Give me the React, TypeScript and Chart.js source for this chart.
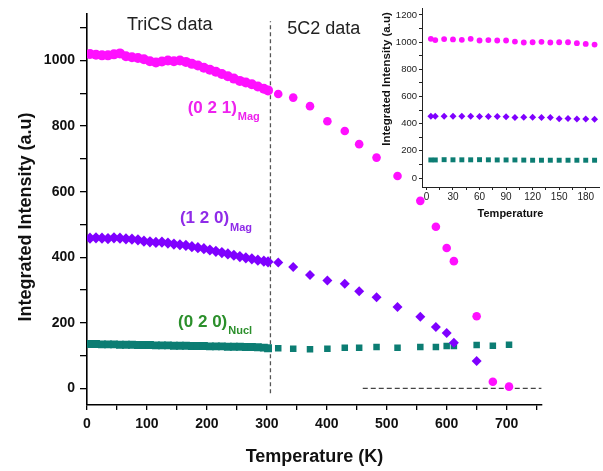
import React, { useEffect, useRef } from 'react';
import { Chart, registerables } from 'chart.js';

Chart.register(...registerables);

const FONT = '"Liberation Sans", Arial, Helvetica, sans-serif';

// ---- Main chart data: TriCS (dense, low T) ----
const tricsT = [5, 15, 25, 35, 45, 55, 65, 75, 85, 95, 105, 115, 125, 135, 145, 155, 165, 175, 185, 195, 205, 215, 225, 235, 245, 255, 265, 275, 285, 295, 302];
const tricsMag021 = [1020, 1018, 1016, 1016, 1019, 1022, 1013, 1010, 1008, 1004, 998, 994, 997, 1000, 998, 1000, 996, 990, 985, 978, 972, 966, 959, 952, 945, 938, 933, 928, 921, 914, 909];
const tricsMag120 = [458, 459, 458, 457, 459, 458, 456, 455, 453, 449, 447, 445, 446, 443, 440, 438, 436, 432, 429, 426, 422, 418, 414, 410, 406, 402, 398, 395, 391, 388, 386];
const tricsNucl020 = [135, 135, 134, 134, 134, 133, 133, 133, 132, 132, 132, 131, 131, 131, 130, 130, 130, 129, 129, 129, 128, 128, 128, 127, 127, 127, 126, 126, 125, 124, 122];

// ---- Main chart data: 5C2 (high T) ----
const c2T = [319, 344, 372, 401, 430, 454, 483, 518, 556, 582, 600, 612, 650, 677, 704];
const c2Mag021 = [898, 887, 861, 815, 785, 745, 704, 648, 572, 493, 428, 388, 220, 20, 5];
const c2T120 = [319, 344, 372, 401, 430, 454, 483, 518, 556, 582, 600, 612, 650];
const c2Mag120 = [384, 370, 346, 329, 319, 296, 278, 248, 218, 187, 169, 139, 83];
const c2Nucl020 = [122, 121, 119, 121, 124, 124, 126, 124, 126, 126, 129, 129, 132, 130, 133];

// ---- Reference lines ----
const boundaryT = [306, 306];
const boundaryY = [-15, 1120];
const baselineT = [460, 758];
const baselineY = [0, 0];

// ---- Inset data ----
const insetT = [5, 10, 20, 30, 40, 50, 60, 70, 80, 90, 100, 110, 120, 130, 140, 150, 160, 170, 180, 190];
const insetMag021 = [1024, 1015, 1022, 1020, 1017, 1024, 1012, 1015, 1012, 1012, 1004, 997, 999, 1002, 997, 999, 999, 992, 987, 982];
const insetMag120 = [455, 455, 455, 455, 455, 455, 453, 452, 453, 450, 445, 447, 448, 445, 446, 436, 438, 435, 435, 432];
const insetNucl020 = [133, 133, 135, 134, 134, 134, 135, 134, 133, 133, 133, 132, 131, 131, 131, 131, 131, 131, 131, 131];

// ---- Tick values ----
const mainXTicks = [0, 50, 100, 150, 200, 250, 300, 350, 400, 450, 500, 550, 600, 650, 700, 750];
const mainYTicks = [0, 100, 200, 300, 400, 500, 600, 700, 800, 900, 1000, 1100];
const insetXTicks = [0, 15, 30, 45, 60, 75, 90, 105, 120, 135, 150, 165, 180];
const insetYTicks = [0, 100, 200, 300, 400, 500, 600, 700, 800, 900, 1000, 1100, 1200];

const MAGENTA = '#ff10ff';
const PURPLE = '#7f00ff';
const TEAL = '#0c7d73';

const zip = (xs: number[], ys: number[]) => xs.map((x, i) => ({ x, y: ys[i] }));

// annotations anchored in data coordinates
const mainTexts = [
  { text: 'TriCS data', t: 138, v: 1107, color: '#222', font: `18px ${FONT}`, align: 'center' },
  { text: '5C2 data', t: 395, v: 1096, color: '#222', font: `18px ${FONT}`, align: 'center' },
];
const peakLabels = [
  { main: '(0 2 1)', sub: 'Mag', t: 168, v: 855, color: '#ee22ee' },
  { main: '(1 2 0)', sub: 'Mag', t: 155, v: 518, color: '#8f2be8' },
  { main: '(0 2 0)', sub: 'Nucl', t: 152, v: 202, color: '#2b8f2b' },
];

export default function App() {
  const mainRef = useRef<HTMLCanvasElement>(null);
  const insetRef = useRef<HTMLCanvasElement>(null);

  useEffect(() => {
    const textPlugin = {
      id: 'mainText',
      afterDraw(chart: any) {
        const ctx = chart.ctx;
        const xs = chart.scales.x;
        const ys = chart.scales.y;
        ctx.save();
        ctx.textBaseline = 'middle';
        for (const a of mainTexts) {
          ctx.font = a.font;
          ctx.fillStyle = a.color;
          ctx.textAlign = a.align as CanvasTextAlign;
          ctx.fillText(a.text, xs.getPixelForValue(a.t), ys.getPixelForValue(a.v));
        }
        for (const l of peakLabels) {
          const px = xs.getPixelForValue(l.t);
          const py = ys.getPixelForValue(l.v);
          ctx.textAlign = 'left';
          ctx.fillStyle = l.color;
          ctx.font = `bold 17px ${FONT}`;
          ctx.fillText(l.main, px, py);
          const w = ctx.measureText(l.main).width;
          ctx.font = `bold 11px ${FONT}`;
          ctx.fillText(l.sub, px + w + 1, py + 9);
        }
        // y axis title
        ctx.translate(26.5, 217);
        ctx.rotate(-Math.PI / 2);
        ctx.textAlign = 'center';
        ctx.fillStyle = '#111';
        ctx.font = `bold 18px ${FONT}`;
        ctx.fillText('Integrated Intensity (a.u)', 0, 0);
        ctx.restore();
      },
    };

    const main = new Chart(mainRef.current as HTMLCanvasElement, {
      type: 'scatter',
      data: {
        datasets: [
          {
            data: zip(tricsT, tricsMag021),
            pointStyle: 'circle', pointRadius: 5, backgroundColor: MAGENTA, borderColor: MAGENTA, pointBorderWidth: 0,
          },
          {
            data: zip(c2T, c2Mag021),
            pointStyle: 'circle', pointRadius: 4.3, backgroundColor: MAGENTA, borderColor: MAGENTA, pointBorderWidth: 0,
          },
          {
            data: zip(tricsT, tricsMag120),
            pointStyle: 'rectRot', pointRadius: 5.6, backgroundColor: PURPLE, borderColor: PURPLE, pointBorderWidth: 0,
          },
          {
            data: zip(c2T120, c2Mag120),
            pointStyle: 'rectRot', pointRadius: 5, backgroundColor: PURPLE, borderColor: PURPLE, pointBorderWidth: 0,
          },
          {
            data: zip(tricsT, tricsNucl020),
            pointStyle: 'rect', pointRadius: 5.6, backgroundColor: TEAL, borderColor: TEAL, pointBorderWidth: 0,
          },
          {
            data: zip(c2T, c2Nucl020),
            pointStyle: 'rect', pointRadius: 4.6, backgroundColor: TEAL, borderColor: TEAL, pointBorderWidth: 0,
          },
          {
            data: zip(boundaryT, boundaryY),
            showLine: true, pointRadius: 0, borderColor: '#555', borderWidth: 1.3, borderDash: [4, 3],
          },
          {
            data: zip(baselineT, baselineY),
            showLine: true, pointRadius: 0, borderColor: '#444', borderWidth: 1.3, borderDash: [5, 3],
          },
        ],
      },
      options: {
        responsive: false,
        animation: false,
        layout: { padding: { top: 12, right: 61, left: 0, bottom: 0 } },
        plugins: { legend: { display: false }, tooltip: { enabled: false } },
        scales: {
          x: {
            type: 'linear',
            min: 0,
            max: 759,
            afterBuildTicks: (s: any) => { s.ticks = mainXTicks.map((value) => ({ value })); },
            afterFit: (s: any) => { s.height = 66; },
            ticks: {
              autoSkip: false,
              maxRotation: 0,
              padding: 6,
              color: '#111',
              font: { family: FONT, size: 14, weight: 'bold' },
              callback: (v: any) => (Number(v) % 100 === 0 ? String(v) : ''),
            },
            grid: { drawOnChartArea: false, drawTicks: true, tickLength: 5, color: '#000', lineWidth: 1.3 },
            border: { display: true, color: '#000', width: 1.6 },
            title: {
              display: true,
              text: 'Temperature (K)',
              color: '#111',
              font: { family: FONT, size: 18, weight: 'bold' },
              padding: { top: 0, bottom: 3.5 },
            },
          },
          y: {
            type: 'linear',
            min: -51,
            max: 1144,
            afterBuildTicks: (s: any) => { s.ticks = mainYTicks.map((value) => ({ value })); },
            afterFit: (s: any) => { s.width = 87; },
            ticks: {
              autoSkip: false,
              padding: 5,
              color: '#111',
              font: { family: FONT, size: 14, weight: 'bold' },
              callback: (v: any) => (Number(v) % 200 === 0 ? String(v) : ''),
            },
            grid: { drawOnChartArea: false, drawTicks: true, tickLength: 7, color: '#000', lineWidth: 1.3 },
            border: { display: true, color: '#000', width: 1.6 },
          },
        },
      } as any,
      plugins: [textPlugin],
    });

    const insetTitlePlugin = {
      id: 'insetTitle',
      afterDraw(chart: any) {
        const ctx = chart.ctx;
        ctx.save();
        ctx.translate(46.7, 79);
        ctx.rotate(-Math.PI / 2);
        ctx.textAlign = 'center';
        ctx.textBaseline = 'middle';
        ctx.fillStyle = '#111';
        ctx.font = `bold 11.5px ${FONT}`;
        ctx.fillText('Integrated Intensity (a.u)', 0, 0);
        ctx.restore();
      },
    };

    const inset = new Chart(insetRef.current as HTMLCanvasElement, {
      type: 'scatter',
      data: {
        datasets: [
          {
            data: zip(insetT, insetMag021),
            pointStyle: 'circle', pointRadius: 2.9, backgroundColor: MAGENTA, borderColor: MAGENTA, pointBorderWidth: 0,
          },
          {
            data: zip(insetT, insetMag120),
            pointStyle: 'rectRot', pointRadius: 3.5, backgroundColor: PURPLE, borderColor: PURPLE, pointBorderWidth: 0,
          },
          {
            data: zip(insetT, insetNucl020),
            pointStyle: 'rect', pointRadius: 3.5, backgroundColor: TEAL, borderColor: TEAL, pointBorderWidth: 0,
          },
        ],
      },
      options: {
        responsive: false,
        animation: false,
        layout: { padding: { top: 8, right: 3, left: 0, bottom: 0 } },
        plugins: { legend: { display: false }, tooltip: { enabled: false } },
        scales: {
          x: {
            type: 'linear',
            min: -5,
            max: 195,
            afterBuildTicks: (s: any) => { s.ticks = insetXTicks.map((value) => ({ value })); },
            afterFit: (s: any) => { s.height = 43; },
            ticks: {
              autoSkip: false,
              maxRotation: 0,
              padding: 1,
              color: '#222',
              font: { family: FONT, size: 10 },
              callback: (v: any) => (Number(v) % 30 === 0 ? String(v) : ''),
            },
            grid: { drawOnChartArea: false, drawTicks: true, tickLength: 3, color: '#222', lineWidth: 1 },
            border: { display: true, color: '#222', width: 1 },
            title: {
              display: true,
              text: 'Temperature',
              color: '#111',
              font: { family: FONT, size: 11, weight: 'bold' },
              padding: { top: 0, bottom: 9 },
            },
          },
          y: {
            type: 'linear',
            min: -66,
            max: 1251,
            afterBuildTicks: (s: any) => { s.ticks = insetYTicks.map((value) => ({ value })); },
            afterFit: (s: any) => { s.width = 82; },
            ticks: {
              autoSkip: false,
              padding: 2,
              color: '#222',
              font: { family: FONT, size: 9.5 },
              callback: (v: any) => (Number(v) % 200 === 0 ? String(v) : ''),
            },
            grid: { drawOnChartArea: false, drawTicks: true, tickLength: 3, color: '#222', lineWidth: 1 },
            border: { display: true, color: '#222', width: 1 },
          },
        },
      } as any,
      plugins: [insetTitlePlugin],
    });

    return () => {
      main.destroy();
      inset.destroy();
    };
  }, []);

  return (
    <div style={{ position: 'absolute', left: 0, top: 0, width: 603, height: 471, background: '#fff' }}>
      <canvas ref={mainRef} width={603} height={471} style={{ position: 'absolute', left: 0, top: 0 }} />
      <canvas ref={insetRef} width={263} height={230} style={{ position: 'absolute', left: 340, top: 0 }} />
    </div>
  );
}
